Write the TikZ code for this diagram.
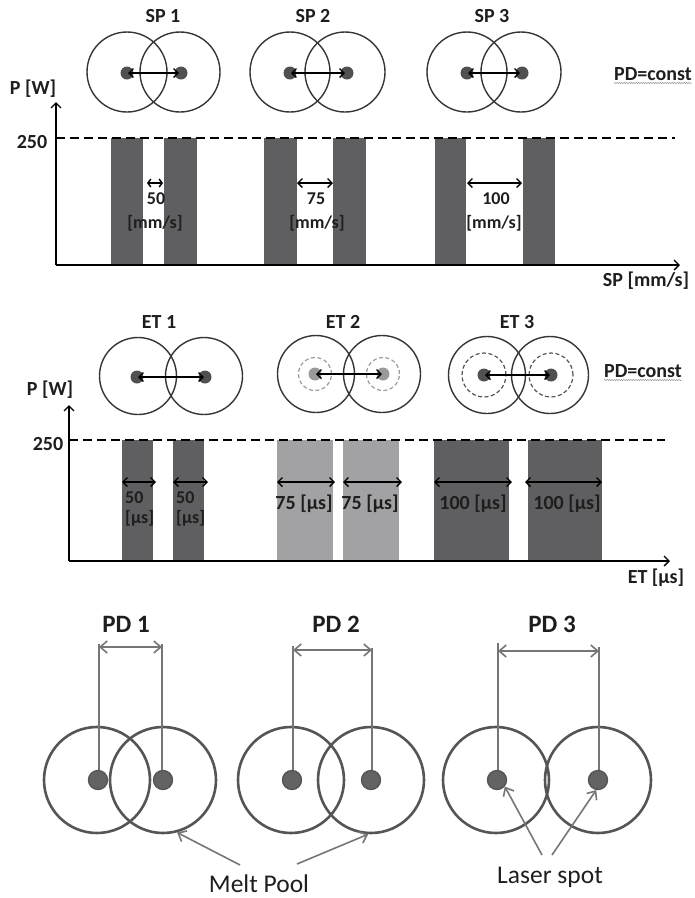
\documentclass[tikz,border=0pt]{standalone}
\usepackage{fontspec}
\setmainfont{Carlito}
\usetikzlibrary{arrows.meta,decorations.pathmorphing}
\definecolor{txt}{HTML}{1E1E1E}
\definecolor{ringc}{HTML}{363636}
\definecolor{barc}{HTML}{5F5F62}
\definecolor{barlight}{HTML}{A2A2A4}
\definecolor{dotc}{HTML}{505050}
\definecolor{dotlight}{HTML}{9A9A9A}
\definecolor{dashlight}{HTML}{9C9C9C}
\definecolor{dashdark}{HTML}{555555}
\definecolor{pdring}{HTML}{555555}
\definecolor{pddot}{HTML}{636363}
\definecolor{pdline}{HTML}{767676}
\tikzset{
  lbl/.style={font=\bfseries\fontsize{20}{23}\selectfont, text=txt, inner sep=0pt, anchor=base},
  smalllbl/.style={font=\bfseries\fontsize{18}{21}\selectfont, text=txt, inner sep=0pt, anchor=base},
  biglbl/.style={font=\bfseries\fontsize{25}{29}\selectfont, text=txt, inner sep=0pt, anchor=base},
  note/.style={font=\fontsize{25.5}{29}\selectfont, text=txt, inner sep=0pt, anchor=base},
  ring/.style={circle, draw=ringc, line width=1.4pt, minimum size=80pt, inner sep=0pt},
  etring/.style={ring, minimum size=77pt},
  dot/.style={circle, fill=dotc, minimum size=13pt, inner sep=0pt},
  dotl/.style={circle, fill=dotlight, minimum size=13pt, inner sep=0pt},
  dashring/.style={circle, draw=dashlight, dashed, dash pattern=on 4pt off 2.5pt, line width=1.2pt, inner sep=0pt},
  pdring/.style={circle, draw=pdring, line width=2.6pt, minimum size=106pt, inner sep=0pt},
  pddot/.style={circle, fill=pddot, draw=pdring, line width=1.4pt, minimum size=19pt, inner sep=0pt},
  axis/.style={draw=black, line width=1.4pt, -{Straight Barb[length=5pt,width=10pt]}},
  level/.style={draw=black, line width=1.2pt, dash pattern=on 9pt off 5pt},
  barr/.style={draw=black, line width=1.4pt, >={Straight Barb[length=4.5pt,width=9pt]}, <->},
  pdarr/.style={draw=pdline, line width=1.6pt, >={Straight Barb[length=7pt,width=12pt]}, <->},
  pdvert/.style={draw=pdline, line width=1.6pt},
  callout/.style={draw=pdline, line width=1.6pt, -{Straight Barb[length=7pt,width=12pt]}},
  squig/.style={draw=gray!80, line width=0.5pt, decorate, decoration={snake, amplitude=0.7pt, segment length=2.4pt}}
}
\begin{document}
\begin{tikzpicture}[x=1pt,y=-1pt]
\useasboundingbox (0,0) rectangle (695,898);

% ================= SP panel =================
\node[lbl] (sp1) at (163,22) {SP 1};
\node[lbl] (sp2) at (313,22) {SP 2};
\node[lbl] (sp3) at (492,22) {SP 3};
\node[lbl] (pdc1) at (653,80) {PD=const};
\draw[squig] ([yshift=-3pt]pdc1.base west) -- ([yshift=-3pt]pdc1.base east);

\node[ring] (c1a) at (127,72) {};
\node[ring] (c1b) at (180,72) {};
\node[ring] (c2a) at (290,72) {};
\node[ring] (c2b) at (345,72) {};
\node[ring] (c3a) at (467,72) {};
\node[ring] (c3b) at (521,72) {};
\node[dot] (d1a) at (127,73) {};
\node[dot] (d1b) at (181,73) {};
\node[dot] (d2a) at (290,73) {};
\node[dot] (d2b) at (347,73) {};
\node[dot] (d3a) at (467,73) {};
\node[dot] (d3b) at (522,73) {};
\draw[barr, shorten <=1pt, shorten >=2pt] (d1a.center) -- (d1b.center);
\draw[barr, shorten <=1pt, shorten >=2pt] (d2a.center) -- (d2b.center);
\draw[barr, shorten <=1pt, shorten >=2pt] (d3a.center) -- (d3b.center);

\fill[barc] (111,138) rectangle (143,265);
\fill[barc] (164,138) rectangle (197,265);
\fill[barc] (264,138) rectangle (297,265);
\fill[barc] (333,138) rectangle (366,265);
\fill[barc] (435,138) rectangle (466,265);
\fill[barc] (523,138) rectangle (555,265);

\draw[level] (56,138) -- (675,138);
\draw[axis] (56,265) -- (56,102);
\draw[axis] (56,265) -- (680,265);

\node[lbl] (pw1) at (33,94) {P [W]};
\node[lbl] (v250a) at (32,148) {250};
\node[lbl] (spax) at (646,286) {SP [mm/s]};

\draw[barr, >={Straight Barb[length=3pt,width=8pt]}] (147,183) -- (163,183);
\draw[barr] (297,183) -- (333,183);
\draw[barr] (467,183) -- (522,183);
\node[smalllbl] (t50) at (156,204) {50};
\node[smalllbl] (t50u) at (155,228) {[mm/s]};
\node[smalllbl] (t75) at (316,204) {75};
\node[smalllbl] (t75u) at (317,228) {[mm/s]};
\node[smalllbl] (t100) at (496,204) {100};
\node[smalllbl] (t100u) at (494,228) {[mm/s]};

% ================= ET panel =================
\node[lbl] (et1) at (159,328) {ET 1};
\node[lbl] (et2) at (343,328) {ET 2};
\node[lbl] (et3) at (517,328) {ET 3};
\node[lbl] (pdc2) at (643,377) {PD=const};
\draw[squig] ([yshift=-3pt]pdc2.base west) -- ([yshift=-3pt]pdc2.base east);

\node[etring] (e1a) at (138,376) {};
\node[etring] (e1b) at (204,376) {};
\node[etring] (e2a) at (316,374) {};
\node[etring] (e2b) at (382,374) {};
\node[etring] (e3a) at (487,375) {};
\node[etring] (e3b) at (550,375) {};
\node[dashring, minimum size=33pt] (g2a) at (315,374) {};
\node[dashring, minimum size=33pt] (g2b) at (383,374) {};
\node[dashring, draw=dashdark, minimum size=44pt] (g3a) at (484,375) {};
\node[dashring, draw=dashdark, minimum size=44pt] (g3b) at (551,375) {};
\node[dot] (f1a) at (137,377) {};
\node[dot] (f1b) at (205,377) {};
\node[dotl] (f2a) at (315,374) {};
\node[dotl] (f2b) at (383,374) {};
\node[dot] (f3a) at (484,375) {};
\node[dot] (f3b) at (551,375) {};
\draw[barr, shorten <=1pt, shorten >=1pt] (f1a.center) -- (f1b.center);
\draw[barr, shorten <=1pt, shorten >=1pt] (f2a.center) -- (f2b.center);
\draw[barr, shorten <=1pt, shorten >=1pt] (f3a.center) -- (f3b.center);

\fill[barc] (122,440) rectangle (153,561);
\fill[barc] (173,440) rectangle (204,561);
\fill[barlight] (277,440) rectangle (333,561);
\fill[barlight] (343,440) rectangle (399,561);
\fill[barc] (434,440) rectangle (509,561);
\fill[barc] (528,440) rectangle (602,561);

\draw[level] (69,440) -- (665,440);
\draw[axis] (69,561) -- (69,405);
\draw[axis] (69,561) -- (670,561);

\node[lbl] (pw2) at (50,395) {P [W]};
\node[lbl] (v250b) at (48,450) {250};
\node[lbl] (etax) at (656,583) {ET [µs]};

\draw[barr] (122,482) -- (156,482);
\draw[barr] (173,482) -- (208,482);
\draw[barr] (277,482) -- (335,482);
\draw[barr] (343,482) -- (402,482);
\draw[barr] (434,482) -- (512,482);
\draw[barr] (525,482) -- (602,482);
\node[smalllbl, anchor=base west] (u50a) at (125,503) {50};
\node[smalllbl, anchor=base west] (u50au) at (125,523) {[µs]};
\node[smalllbl, anchor=base west] (u50b) at (176,503) {50};
\node[smalllbl, anchor=base west] (u50bu) at (176,523) {[µs]};
\node[lbl] (u75a) at (304,509) {75 [µs]};
\node[lbl] (u75b) at (370,509) {75 [µs]};
\node[lbl] (u100a) at (473,509) {100 [µs]};
\node[lbl] (u100b) at (567,509) {100 [µs]};

% ================= PD panel =================
\node[biglbl] (pd1) at (126,632) {PD 1};
\node[biglbl] (pd2) at (336,632) {PD 2};
\node[biglbl] (pd3) at (552,632) {PD 3};

\node[pdring] (r1a) at (97,780) {};
\node[pdring] (r1b) at (163,780) {};
\node[pdring] (r2a) at (291,780) {};
\node[pdring] (r2b) at (371,780) {};
\node[pdring] (r3a) at (496,780) {};
\node[pdring] (r3b) at (598,780) {};

\coordinate (k1a) at (99,780);
\coordinate (k1b) at (162,780);
\coordinate (k2a) at (293,780);
\coordinate (k2b) at (372,780);
\coordinate (k3a) at (498,780);
\coordinate (k3b) at (599,780);
\draw[pdvert] (k1a) -- (k1a |- 0,644);
\draw[pdvert] (k1b) -- (k1b |- 0,644);
\draw[pdvert] (k2a) -- (k2a |- 0,646);
\draw[pdvert] (k2b) -- (k2b |- 0,648);
\draw[pdvert] (k3a) -- (k3a |- 0,643);
\draw[pdvert] (k3b) -- (k3b |- 0,647);
\draw[pdarr] (k1a |- 0,647) -- (k1b |- 0,647);
\draw[pdarr] (k2a |- 0,650) -- (k2b |- 0,650);
\draw[pdarr] (k3a |- 0,651) -- (k3b |- 0,651);

\node[pddot] (p1a) at (98,780) {};
\node[pddot] (p1b) at (163,780) {};
\node[pddot] (p2a) at (292,780) {};
\node[pddot] (p2b) at (371,780) {};
\node[pddot] (p3a) at (497,780) {};
\node[pddot] (p3b) at (598,780) {};

\node[note] (melt) at (259,892) {Melt Pool};
\node[note] (laser) at (550,883) {Laser spot};
\coordinate (m1) at (240,865);
\coordinate (m2) at (297,864);
\coordinate (l1) at (542,855);
\coordinate (l2) at (552,855);
\draw[callout] (m1) -- (r1b.-75);
\draw[callout] (m2) -- (r2b.-93);
\draw[callout] (l1) -- (p3a.-40);
\draw[callout] (l2) -- (p3b.-100);
\end{tikzpicture}
\end{document}
